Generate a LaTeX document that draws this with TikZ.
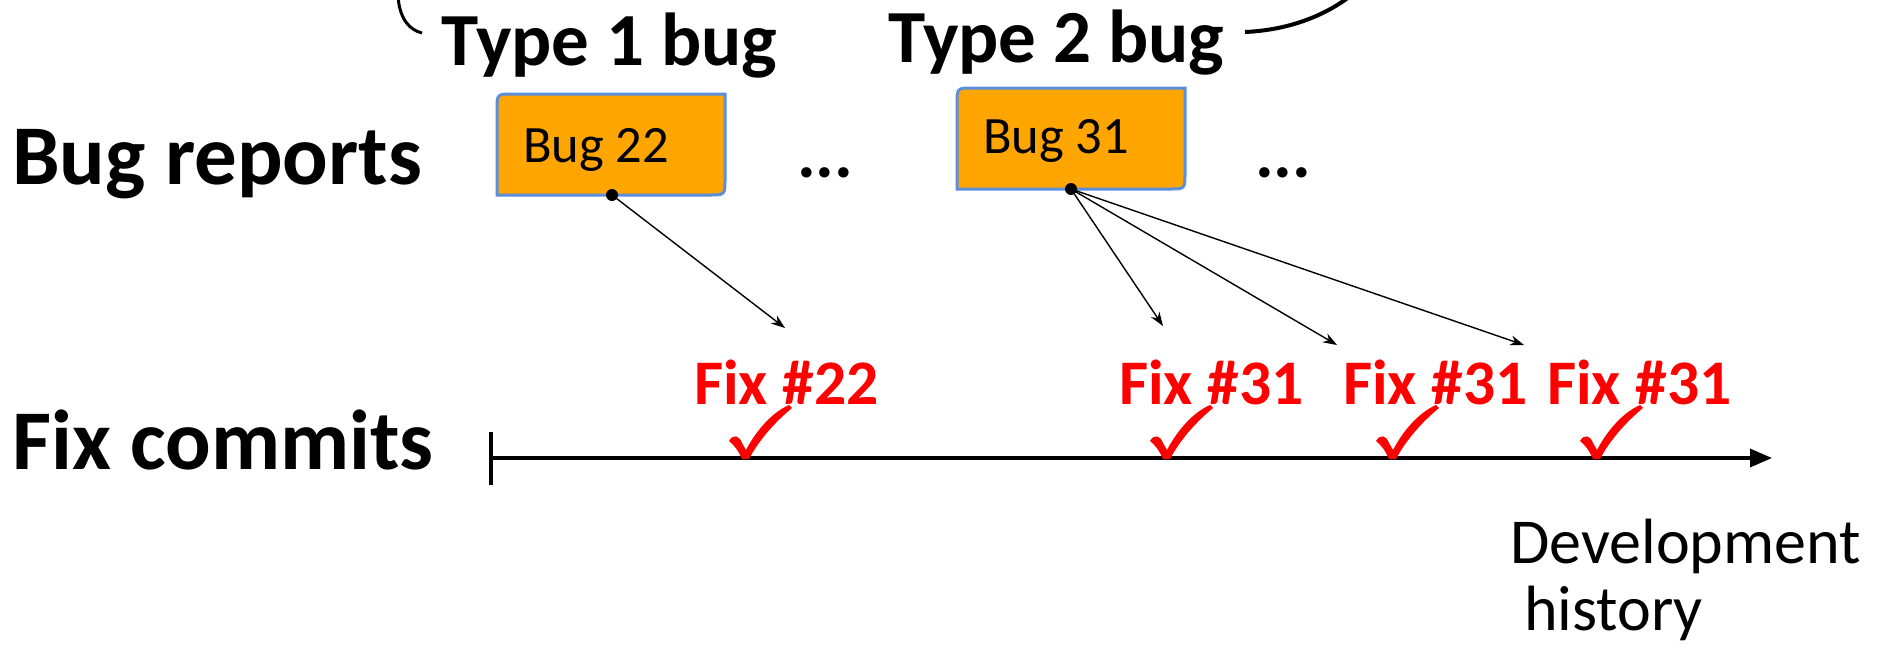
\documentclass[tikz,border=0pt]{standalone}
\usepackage{fontspec}
\setmainfont{Carlito}
\usetikzlibrary{arrows.meta}
\definecolor{boxfill}{HTML}{FFA500}
\definecolor{boxline}{HTML}{5B8EDB}
\newcommand\diagbox[5]{% name L T R B
  \draw[bugbox] (#2,#5) -- (#2,#3+16) .. controls (#2,#3) .. (#2+16,#3) -- (#4,#3) -- (#4,#5-16) .. controls (#4,#5) .. (#4-16,#5) -- cycle;
  \node[inner sep=0, minimum width=#4-#2, minimum height=#5-#3] (#1) at ({(#2+#4)/2},{(#3+#5)/2}) {};
}
\begin{document}
\begin{tikzpicture}[x=1pt,y=-1pt,
  biglabel/.style={inner sep=0, anchor=base west, font=\fontsize{85}{100}\selectfont\bfseries},
  typelabel/.style={inner sep=0, anchor=base west, font=\fontsize{75}{90}\selectfont\bfseries},
  fixlabel/.style={inner sep=0, anchor=base west, text=red, font=\fontsize{63.5}{72}\selectfont\bfseries},
  boxtext/.style={inner sep=0, anchor=base west, font=\fontsize{52.5}{60}\selectfont},
  dots/.style={inner sep=0, anchor=base west, font=\fontsize{70}{80}\selectfont\bfseries},
  devtext/.style={inner sep=0, anchor=base west, font=\fontsize{64}{70}\selectfont},
  bugbox/.style={fill=boxfill, draw=boxline, line width=3pt},
  dotnode/.style={circle, fill=black, inner sep=0, minimum size=12pt},
  arr/.style={line width=1.4pt, -{Stealth[length=14pt,width=10pt]}},
  chk/.pic={\fill[red] (-16,-17) .. controls (-12,-24) and (-6,-23) .. (-3,-15) -- (1,-8)
      .. controls (12,-29) and (28,-46) .. (44,-53) -- (47,-50)
      .. controls (30,-36) and (14,-18) .. (4,1) -- (-3,1)
      .. controls (-7,-8) and (-11,-13) .. cycle;}
]
\useasboundingbox (0,0) rectangle (1885,646);

% top curves
\draw[line width=3pt] (398,-3) .. controls (400,20) and (410,30) .. (422,33);
\draw[line width=4pt] (1245,32) .. controls (1290,30) and (1325,15) .. (1349,-3);

% labels
\node[typelabel] (t1) at (441,65) {Type 1 bug};
\node[typelabel] (t2) at (888,62) {Type 2 bug};
\node[biglabel] (br) at (12,184) {Bug reports};
\node[biglabel] (fc) at (12,469) {Fix commits};

% bug boxes
\diagbox{b22}{497}{94}{725}{195}
\diagbox{b31}{957}{88}{1185}{189}
\node[boxtext] (b22t) at (523,162) {Bug 22};
\node[boxtext] (b31t) at (983,153) {Bug 31};
\node[dots] (e1) at (797,177) {...};
\node[dots] (e2) at (1255,177) {...};

\node[dotnode] (d22) at (612,195) {};
\node[dotnode] (d31) at (1071,189) {};

% timeline
\coordinate (tl0) at (491,458);
\coordinate (tl1) at (1772,458);
\draw[line width=4pt] (491,432) -- (491,485);
\draw[line width=3.5pt, -{Triangle[length=22pt,width=18pt]}] (tl0) -- (tl1);

% fix labels
\node[fixlabel] (f22) at (694,404) {Fix \#22};
\node[fixlabel] (f31a) at (1119,404) {Fix \#31};
\node[fixlabel] (f31b) at (1343,404) {Fix \#31};
\node[fixlabel] (f31c) at (1547,404) {Fix \#31};

% checks
\pic at (745,458) {chk};
\pic at (1166,458) {chk};
\pic at (1392,458) {chk};
\pic at (1596,458) {chk};

% arrows
\coordinate (a22) at (785,328);
\coordinate (a31a) at (1163,326);
\coordinate (a31b) at (1337,345);
\coordinate (a31c) at (1524,345);
\draw[arr] (d22.center) -- (a22);
\draw[arr] (d31.center) -- (a31a);
\draw[arr] (d31.center) -- (a31b);
\draw[arr] (d31.center) -- (a31c);

% development history
\node[devtext] (dev) at (1510,563) {Development};
\node[devtext] (hist) at (1524,630) {history};
\end{tikzpicture}
\end{document}
